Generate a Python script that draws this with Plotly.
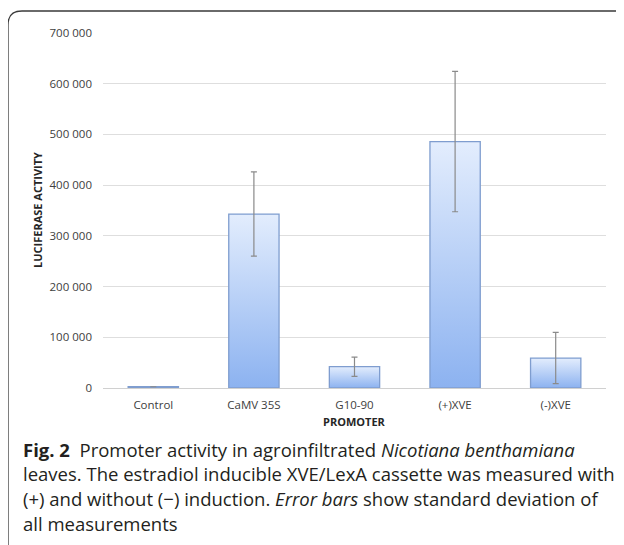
import plotly.graph_objects as go

categories = ["Control", "CaMV 35S", "G10-90", "(+)XVE", "(-)XVE"]
values = [2500, 343000, 42000, 486000, 59000]
errors = [0, 83000, 19000, 138500, 50500]
y_ticks = [0, 100000, 200000, 300000, 400000, 500000, 600000, 700000]
y_ticklabels = ["0", "100 000", "200 000", "300 000", "400 000", "500 000", "600 000", "700 000"]

OFF = 8  # page body margin
W, H = 624, 545
# plot area in reference pixels: x 103..606, y 33..388
L, T = 103 - OFF, 33 - OFF
R = W - (606 - OFF)
B = H - (388 - OFF)
PW, PH = W - L - R, H - T - B


def px(x):
    return (x - OFF - L) / PW


def py(y):
    return 1 - (y - OFF - T) / PH


fig = go.Figure()
half = 0.25
for i, v in enumerate(values):
    fig.add_trace(go.Scatter(
        x=[i - half, i - half, i + half, i + half, i - half],
        y=[0, v, v, 0, 0],
        fill="toself",
        mode="lines",
        line=dict(color="#7f9dcf", width=1.3),
        fillgradient=dict(type="vertical",
                          colorscale=[[0, "#8cb2f0"], [1, "#e3edfd"]]),
        hoverinfo="skip",
        showlegend=False,
    ))

fig.add_trace(go.Scatter(
    x=list(range(len(categories))),
    y=values,
    mode="markers",
    marker=dict(size=1, opacity=0),
    error_y=dict(type="data", array=errors, visible=True,
                 color="#8a8a8a", thickness=1.2, width=3),
    showlegend=False,
))

tick_font = dict(family="Open Sans", size=11.5, color="#404040")
fig.update_xaxes(
    range=[-0.5, 4.5], tickvals=list(range(len(categories))), ticktext=categories,
    showgrid=False, zeroline=False, showline=False, ticks="",
    tickfont=tick_font, ticklabelstandoff=8,
)
fig.update_yaxes(
    range=[0, 700000], tickvals=y_ticks, ticktext=y_ticklabels,
    showgrid=True, gridcolor="#dedede", gridwidth=1, zeroline=True,
    zerolinecolor="#d0d0d0", zerolinewidth=1, showline=False, ticks="",
    tickfont=tick_font, ticklabelstandoff=10,
)

title_font = dict(family="Open Sans", size=11, color="#262626")
fig.add_annotation(text="<b>PROMOTER</b>", xref="paper", yref="paper",
                   x=px(354), y=py(421), xanchor="center", yanchor="middle",
                   showarrow=False, font=title_font)
fig.add_annotation(text="<b>LUCIFERASE ACTIVITY</b>", xref="paper", yref="paper",
                   x=px(37), y=py(210), xanchor="center", yanchor="middle",
                   textangle=-90, showarrow=False, font=title_font)

# frame
x0, y0, r = 8, 11, 14
path = (f"M {px(x0)} {py(H + 40)} L {px(x0)} {py(y0 + r)} "
        f"Q {px(x0)} {py(y0)} {px(x0 + r)} {py(y0)} L {px(W + 40)} {py(y0)}")
fig.add_shape(type="path", path=path, xref="paper", yref="paper",
              line=dict(color="#3a3a3a", width=1.3))

cap_font = dict(family="Open Sans", size=18.5, color="#231f20")
lines = [
    "<b>Fig. 2</b>  Promoter activity in agroinfiltrated <i>Nicotiana benthamiana</i>",
    "leaves. The estradiol inducible XVE/LexA cassette was measured with",
    "(+) and without (−) induction. <i>Error bars</i> show standard deviation of",
    "all measurements",
]
centers = [449, 473.7, 498.4, 523]
for txt, yc in zip(lines, centers):
    fig.add_annotation(text=txt, xref="paper", yref="paper", x=px(21), y=py(yc),
                       xanchor="left", yanchor="middle", showarrow=False, font=cap_font)

fig.update_layout(
    width=W, height=H, margin=dict(l=L, r=R, t=T, b=B),
    paper_bgcolor="white", plot_bgcolor="white",
)

fig.write_html("out.html")
